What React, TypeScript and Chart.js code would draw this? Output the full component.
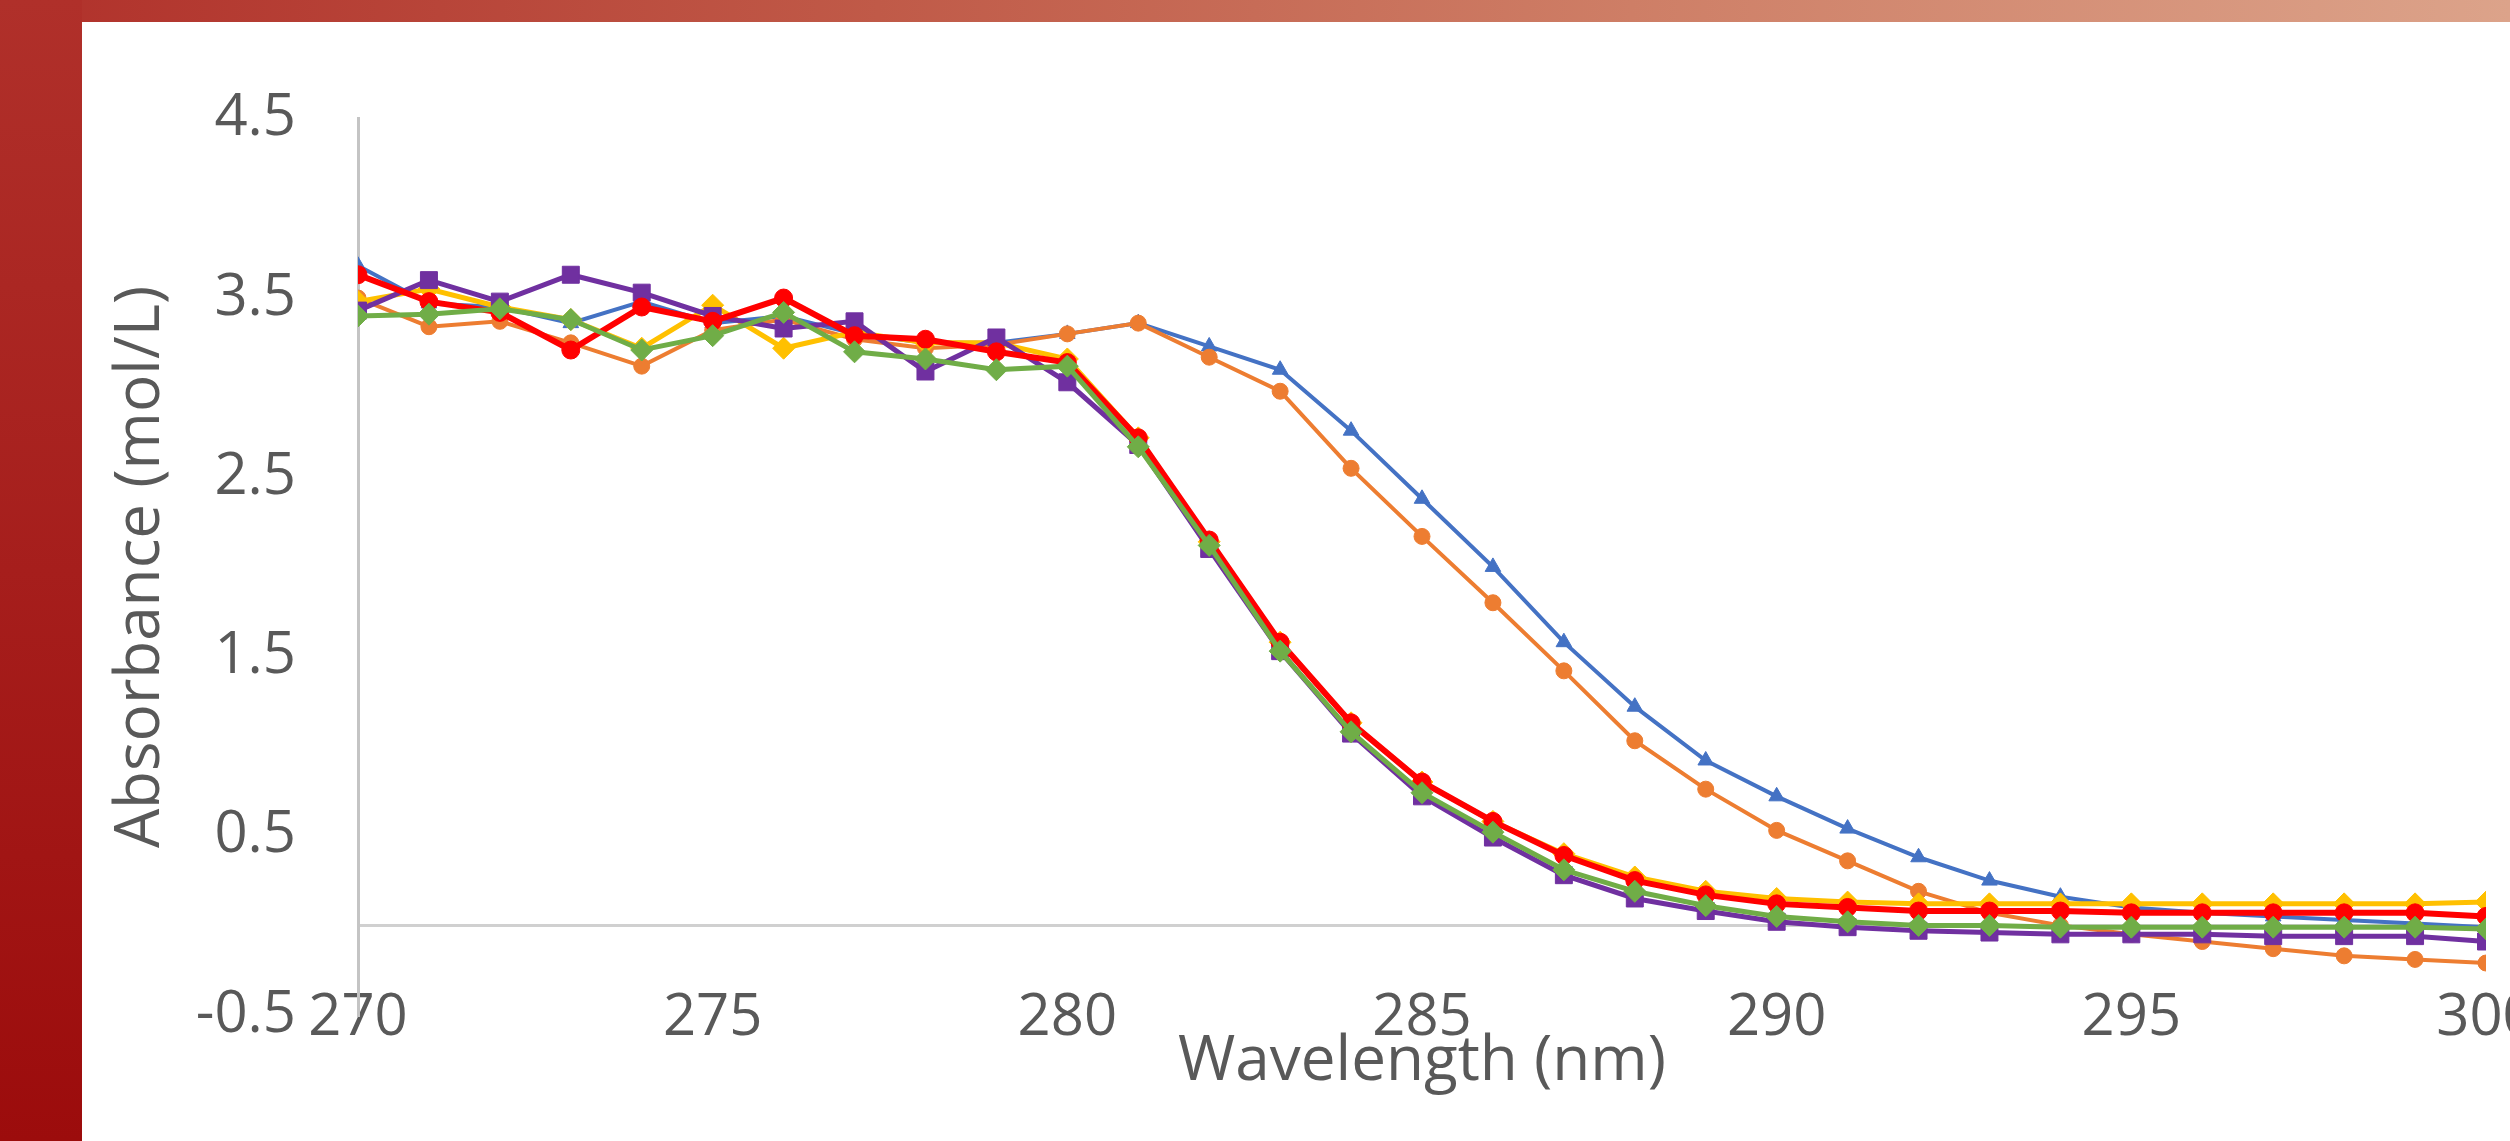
import React, { useEffect, useRef } from "react";
import { Chart, registerables } from "chart.js";

Chart.register(...registerables);

const wavelengths = [
  270, 271, 272, 273, 274, 275, 276, 277, 278, 279, 280, 281, 282, 283, 284, 285,
  286, 287, 288, 289, 290, 291, 292, 293, 294, 295, 296, 297, 298, 299, 300,
];

const seriesBlue = [
  3.68, 3.47, 3.45, 3.36, 3.48, 3.36, 3.4, 3.3, 3.25, 3.25, 3.3, 3.36, 3.23, 3.1, 2.76, 2.38,
  2.0, 1.58, 1.22, 0.92, 0.72, 0.54, 0.38, 0.25, 0.16, 0.1, 0.07, 0.05, 0.03, 0.01, -0.01,
];
const seriesOrange = [
  3.5, 3.34, 3.37, 3.25, 3.12, 3.32, 3.38, 3.27, 3.22, 3.24, 3.3, 3.36, 3.17, 2.98, 2.55, 2.17,
  1.8, 1.42, 1.03, 0.76, 0.53, 0.36, 0.19, 0.07, 0.0, -0.05, -0.09, -0.13, -0.17, -0.19, -0.21,
];
const seriesYellow = [
  3.48, 3.55, 3.45, 3.38, 3.22, 3.46, 3.22, 3.31, 3.25, 3.25, 3.16, 2.72, 2.14, 1.58, 1.13, 0.8,
  0.58, 0.4, 0.27, 0.19, 0.15, 0.13, 0.12, 0.12, 0.12, 0.12, 0.12, 0.12, 0.12, 0.12, 0.13,
];
const seriesPurple = [
  3.43, 3.6, 3.48, 3.63, 3.53, 3.4, 3.33, 3.37, 3.09, 3.28, 3.03, 2.68, 2.1, 1.53, 1.07, 0.72,
  0.49, 0.28, 0.15, 0.08, 0.02, -0.01, -0.03, -0.04, -0.05, -0.05, -0.05, -0.06, -0.06, -0.06, -0.09,
];
const seriesRed = [
  3.63, 3.48, 3.42, 3.21, 3.45, 3.37, 3.5, 3.29, 3.27, 3.2, 3.14, 2.72, 2.15, 1.58, 1.13, 0.8,
  0.58, 0.39, 0.25, 0.17, 0.12, 0.1, 0.08, 0.08, 0.08, 0.07, 0.07, 0.07, 0.07, 0.07, 0.05,
];
const seriesGreen = [
  3.4, 3.41, 3.44, 3.38, 3.21, 3.29, 3.42, 3.2, 3.16, 3.1, 3.12, 2.67, 2.12, 1.53, 1.08, 0.74,
  0.52, 0.31, 0.19, 0.11, 0.05, 0.02, 0.0, 0.0, -0.01, -0.01, -0.01, -0.01, -0.01, -0.01, -0.02,
];

const yTickValues = [-0.5, 0, 0.5, 1.5, 2.5, 3.5, 4.5];
const xTickStep = 5;

const FONT = "'Open Sans', 'DejaVu Sans', sans-serif";
const TEXT = "#595959";

export default function App() {
  const ref = useRef<HTMLCanvasElement | null>(null);

  useEffect(() => {
    document.body.style.margin = "0";
    const canvas = ref.current;
    if (!canvas) return;
    const pts = (ys: number[]) => wavelengths.map((x, i) => ({ x, y: ys[i] }));
    const ds = (label: string, ys: number[], color: string, style: string, radius: number, width: number, order: number) => ({
      label,
      data: pts(ys),
      borderColor: color,
      backgroundColor: color,
      borderWidth: width,
      pointStyle: style,
      pointRadius: radius,
      pointBorderWidth: 1,
      pointBackgroundColor: color,
      pointBorderColor: color,
      tension: 0,
      order,
    });

    const chart = new Chart(canvas, {
      type: "line",
      data: {
        datasets: [
          ds("Series 1", seriesBlue, "#4472C4", "triangle", 9, 4, 6),
          ds("Series 2", seriesOrange, "#ED7D31", "circle", 8, 4, 5),
          ds("Series 3", seriesYellow, "#FFC000", "rectRot", 11, 5, 4),
          ds("Series 4", seriesPurple, "#7030A0", "rect", 12, 5, 3),
          ds("Series 5", seriesRed, "#FF0000", "circle", 9, 6, 2),
          ds("Series 6", seriesGreen, "#70AD47", "rectRot", 11, 5, 1),
        ] as any,
      },
      options: {
        responsive: false,
        animation: false,
        layout: { padding: { left: 0, top: 92, right: 96, bottom: 0 } },
        plugins: { legend: { display: false }, tooltip: { enabled: false } },
        scales: {
          x: {
            type: "linear",
            min: 270,
            max: 300,
            ticks: {
              stepSize: xTickStep,
              mirror: true,
              padding: -38,
              color: TEXT,
              font: { family: FONT, size: 58, lineHeight: 1.2 },
              maxRotation: 0,
              autoSkip: false,
              callback: (v: any) => String(v),
            },
            grid: { display: false, drawTicks: false },
            border: { display: false },
            title: {
              display: true,
              text: "Wavelength (nm)",
              color: TEXT,
              font: { family: FONT, size: 62, lineHeight: 1.2 },
              padding: { top: 0, bottom: 41 },
            },
            afterFit: (s: any) => {
              s.height = 126;
            },
          },
          y: {
            type: "linear",
            min: -0.5,
            max: 4.5,
            afterBuildTicks: (s: any) => {
              s.ticks = yTickValues.map((v) => ({ value: v }));
            },
            ticks: {
              padding: 62,
              color: TEXT,
              font: { family: FONT, size: 58, lineHeight: 1.2 },
              callback: (v: any) => (v === 0 ? "" : String(v)),
            },
            grid: {
              drawTicks: false,
              lineWidth: 3,
              color: (ctx: any) => (ctx.tick && ctx.tick.value === 0 ? "#D0D0D0" : "rgba(0,0,0,0)"),
            },
            border: { display: true, color: "#C4C4C4", width: 3 },
            title: {
              display: true,
              text: "Absorbance (mol/L)",
              color: TEXT,
              font: { family: FONT, size: 62, lineHeight: 1.2 },
              padding: { top: 22, bottom: 0 },
            },
            afterFit: (s: any) => {
              s.width = 276;
            },
          },
        },
      } as any,
    });
    return () => chart.destroy();
  }, []);

  return (
    <div
      style={{
        position: "fixed",
        left: 0,
        top: 0,
        width: 2510,
        height: 1141,
        overflow: "hidden",
        background: "#ffffff",
      }}
    >
      <div
        style={{
          position: "absolute",
          left: 0,
          top: 0,
          width: 2510,
          height: 22,
          background: "linear-gradient(to right, #B0302A 0%, #C05A48 35%, #CE7E66 65%, #DCA38A 100%)",
        }}
      />
      <div
        style={{
          position: "absolute",
          left: 0,
          top: 0,
          width: 82,
          height: 1141,
          background: "linear-gradient(to bottom, #B0302A 0%, #A61E1C 50%, #9C0C0C 100%)",
        }}
      />
      <canvas
        ref={ref}
        width={2500}
        height={1119}
        style={{ position: "absolute", left: 82, top: 22, width: 2500, height: 1119 }}
      />
    </div>
  );
}
